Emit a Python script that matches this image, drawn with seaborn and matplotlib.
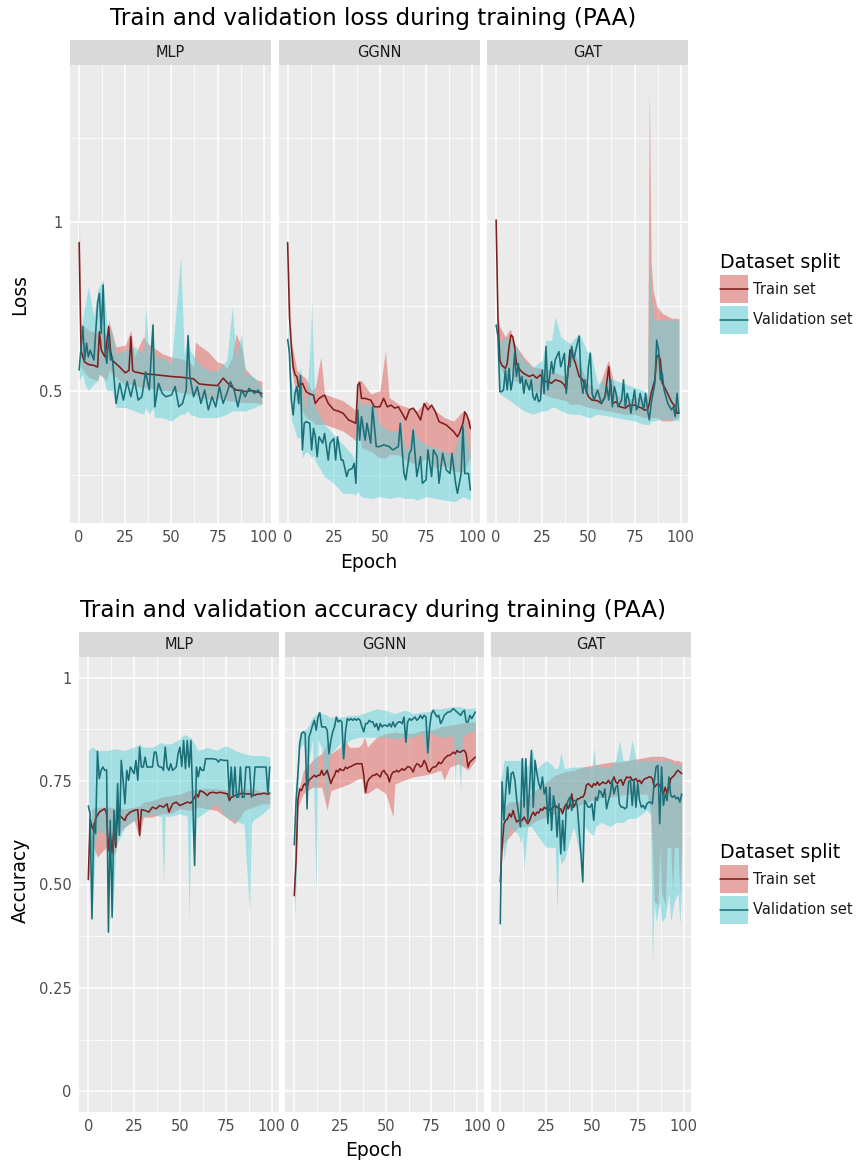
import matplotlib
matplotlib.use("Agg")
import matplotlib.pyplot as plt
from matplotlib.patches import Rectangle
from matplotlib.lines import Line2D
import pandas as pd
import seaborn as sns

# ---------------- data ----------------
MODELS = ["MLP", "GGNN", "GAT"]
SPLITS = ["Train set", "Validation set"]
LOSS_TICKS = [0.5, 1.0]
LOSS_TICK_LABELS = ["0.5", "1"]
ACC_TICKS = [0, 0.25, 0.5, 0.75, 1.0]
ACC_TICK_LABELS = ["0", "0.25", "0.50", "0.75", "1"]
EPOCH_TICKS = [0, 25, 50, 75, 100]

# line values: (epoch, value); bands: (epoch, low, high)
LOSS_MLP_TRAIN = [(0,.94),(1,.62),(2,.60),(3,.585),(5,.578),(8,.575),(10,.57),(11,.675),(12,.62),(14,.60),(16,.69),(17,.62),(18,.59),(20,.58),(22,.57),(25,.553),(27,.56),(28,.66),(29,.56),(30,.556),(35,.55),(40,.548),(45,.545),(50,.542),(55,.54),(60,.537),(62,.535),(65,.52),(70,.517),(75,.515),(78,.537),(82,.514),(85,.502),(88,.50),(90,.497),(93,.50),(95,.499),(97,.495),(99,.492)]
LOSS_MLP_TRAIN_BAND = [(0,.90,1.04),(1,.57,.70),(5,.54,.68),(10,.53,.67),(11,.55,.70),(15,.53,.66),(16,.56,.71),(20,.54,.63),(25,.515,.635),(28,.52,.68),(30,.515,.60),(33,.51,.64),(35,.51,.66),(37,.51,.64),(40,.505,.63),(45,.50,.61),(50,.50,.60),(55,.495,.595),(60,.49,.585),(62,.49,.57),(63,.49,.645),(65,.48,.635),(70,.475,.615),(75,.475,.585),(78,.48,.58),(80,.47,.565),(83,.47,.60),(85,.465,.67),(88,.465,.63),(90,.465,.565),(95,.465,.535),(99,.46,.527)]
LOSS_MLP_VAL = [(0,.561),(2,.69),(3,.591),(4,.641),(5,.60),(6,.62),(8,.591),(10,.759),(11,.789),(12,.67),(13,.814),(14,.62),(15,.581),(16,.66),(17,.591),(18,.60),(20,.462),(22,.522),(24,.472),(26,.527),(28,.482),(30,.532),(32,.472),(34,.482),(36,.556),(38,.502),(40,.695),(41,.452),(43,.522),(45,.492),(47,.482),(50,.487),(52,.512),(54,.452),(56,.462),(58,.502),(59,.663),(60,.542),(62,.482),(64,.512),(66,.462),(68,.502),(70,.443),(72,.482),(74,.452),(76,.512),(78,.462),(80,.492),(82,.527),(84,.502),(86,.452),(88,.502),(90,.482),(92,.507),(95,.492),(97,.502),(99,.482)]
LOSS_MLP_VAL_BAND = [(0,.53,.60),(2,.55,.72),(3,.52,.75),(5,.50,.81),(8,.52,.72),(10,.53,.80),(11,.55,.81),(13,.54,.83),(15,.50,.70),(18,.50,.67),(20,.45,.61),(25,.45,.62),(30,.44,.63),(35,.43,.61),(36,.45,.75),(38,.43,.60),(40,.45,.71),(41,.42,.60),(45,.42,.60),(50,.41,.58),(55,.43,.90),(57,.43,.60),(59,.44,.68),(60,.43,.62),(65,.42,.58),(70,.42,.56),(75,.42,.56),(80,.43,.59),(83,.44,.75),(85,.44,.60),(88,.44,.67),(90,.44,.55),(95,.45,.54),(99,.46,.51)]

LOSS_GGNN_TRAIN = [(0,.94),(1,.72),(2,.631),(3,.571),(4,.547),(5,.542),(6,.512),(8,.522),(10,.497),(12,.49),(14,.487),(15,.462),(17,.477),(20,.487),(22,.462),(25,.443),(28,.438),(30,.433),(33,.413),(37,.403),(38,.517),(39,.524),(40,.477),(42,.477),(45,.472),(47,.452),(50,.452),(52,.477),(54,.452),(56,.457),(58,.448),(60,.452),(62,.433),(64,.413),(66,.443),(68,.448),(70,.433),(72,.413),(74,.462),(76,.443),(78,.457),(80,.438),(82,.408),(84,.403),(86,.398),(88,.388),(90,.378),(92,.363),(93,.373),(95,.403),(96,.437),(97,.428),(98,.413),(99,.388)]
LOSS_GGNN_TRAIN_BAND = [(0,.93,.95),(2,.57,.65),(5,.47,.56),(10,.42,.535),(13,.41,.50),(15,.40,.51),(18,.40,.60),(20,.40,.49),(25,.39,.48),(30,.38,.47),(35,.36,.45),(37,.35,.44),(38,.40,.53),(40,.33,.53),(45,.32,.49),(50,.30,.50),(53,.30,.62),(55,.31,.48),(60,.31,.46),(65,.29,.45),(70,.28,.44),(75,.30,.47),(80,.27,.44),(85,.28,.42),(90,.26,.41),(95,.26,.44),(99,.30,.41)]
LOSS_GGNN_VAL = [(0,.652),(1,.611),(2,.472),(3,.428),(4,.492),(5,.512),(6,.462),(7,.545),(8,.324),(9,.403),(10,.408),(12,.403),(13,.324),(14,.388),(15,.363),(16,.304),(17,.363),(19,.344),(20,.373),(22,.294),(23,.344),(25,.358),(26,.294),(27,.363),(29,.294),(30,.294),(32,.245),(33,.264),(35,.269),(36,.284),(37,.225),(38,.443),(39,.353),(40,.423),(42,.353),(43,.403),(45,.344),(46,.452),(48,.334),(50,.334),(52,.339),(55,.334),(57,.324),(60,.334),(61,.403),(63,.254),(64,.235),(66,.314),(67,.324),(68,.383),(70,.245),(72,.304),(73,.225),(75,.235),(76,.324),(78,.245),(79,.324),(81,.304),(82,.225),(84,.314),(86,.264),(88,.254),(89,.314),(91,.225),(92,.195),(94,.254),(95,.393),(96,.254),(98,.254),(99,.205)]
LOSS_GGNN_VAL_BAND = [(0,.62,.70),(2,.41,.53),(3,.40,.50),(5,.36,.53),(7,.36,.57),(8,.30,.50),(10,.32,.45),(12,.31,.62),(13,.30,.77),(14,.31,.58),(15,.29,.45),(20,.245,.40),(25,.225,.37),(30,.195,.34),(35,.195,.31),(37,.19,.28),(38,.20,.48),(40,.185,.46),(45,.18,.46),(46,.18,.47),(50,.185,.40),(55,.18,.38),(60,.185,.38),(61,.185,.42),(63,.18,.34),(65,.18,.32),(68,.18,.40),(70,.175,.36),(75,.185,.34),(80,.18,.33),(85,.175,.32),(90,.17,.31),(95,.185,.42),(99,.175,.31)]

LOSS_GAT_TRAIN = [(0,1.007),(1,.71),(2,.591),(3,.576),(5,.566),(6,.581),(7,.631),(8,.665),(9,.66),(10,.631),(11,.581),(12,.571),(13,.561),(15,.551),(18,.542),(20,.547),(22,.537),(24,.547),(26,.527),(28,.527),(30,.522),(32,.532),(35,.527),(37,.517),(38,.502),(40,.621),(41,.611),(43,.581),(45,.542),(47,.532),(49,.497),(50,.482),(52,.472),(55,.47),(57,.462),(59,.482),(61,.571),(62,.512),(63,.462),(65,.467),(67,.452),(70,.448),(72,.457),(75,.457),(77,.452),(79,.448),(80,.443),(82,.443),(83,.462),(84,.492),(86,.532),(87,.601),(88,.606),(89,.591),(90,.522),(92,.502),(95,.467),(97,.452),(98,.433),(99,.433)]
LOSS_GAT_TRAIN_BAND = [(0,.997,1.01),(1,.70,.72),(2,.57,.69),(5,.54,.66),(7,.55,.68),(8,.56,.68),(10,.53,.64),(15,.52,.60),(20,.50,.57),(30,.48,.56),(38,.47,.54),(40,.46,.64),(45,.46,.58),(50,.45,.52),(55,.445,.50),(60,.44,.58),(61,.44,.59),(65,.435,.49),(70,.43,.47),(75,.43,.48),(80,.42,.48),(82,.42,.48),(83,.42,1.40),(84,.42,.88),(85,.42,.80),(87,.42,.75),(90,.41,.73),(95,.41,.715),(99,.42,.715)]
LOSS_GAT_VAL = [(0,.695),(1,.66),(2,.497),(3,.497),(4,.502),(5,.561),(6,.502),(7,.566),(8,.502),(9,.532),(10,.611),(11,.542),(12,.581),(13,.522),(14,.542),(15,.492),(16,.532),(17,.517),(18,.502),(19,.532),(20,.482),(21,.472),(22,.492),(23,.467),(24,.472),(25,.561),(26,.492),(27,.631),(28,.502),(30,.586),(31,.551),(32,.591),(34,.616),(35,.571),(37,.611),(38,.492),(39,.571),(40,.571),(41,.631),(42,.591),(44,.641),(45,.662),(46,.532),(47,.492),(48,.532),(49,.492),(50,.571),(51,.611),(52,.492),(53,.472),(55,.502),(57,.462),(59,.482),(60,.512),(61,.472),(62,.532),(63,.452),(64,.512),(65,.492),(66,.452),(68,.472),(69,.532),(70,.452),(71,.492),(72,.472),(73,.433),(75,.502),(76,.443),(77,.452),(78,.492),(80,.443),(81,.492),(82,.443),(83,.413),(84,.462),(85,.492),(86,.522),(87,.65),(88,.621),(89,.532),(90,.551),(91,.502),(93,.462),(95,.443),(96,.452),(97,.423),(98,.492),(99,.433)]
LOSS_GAT_VAL_BAND = [(0,.69,.70),(2,.49,.64),(5,.48,.66),(10,.46,.64),(15,.44,.59),(20,.43,.57),(25,.44,.59),(27,.44,.65),(30,.45,.65),(32,.45,.72),(35,.44,.66),(40,.43,.64),(45,.43,.67),(50,.42,.61),(51,.42,.62),(55,.43,.52),(60,.425,.54),(65,.42,.53),(70,.415,.52),(75,.41,.51),(80,.40,.50),(82,.40,.49),(83,.40,.89),(84,.41,.79),(85,.41,.71),(90,.415,.71),(95,.415,.71),(99,.41,.71)]

ACC_MLP_TRAIN = [(0,.512),(1,.659),(2,.639),(3,.631),(4,.659),(5,.667),(6,.675),(8,.681),(9,.683),(10,.671),(11,.582),(12,.623),(13,.578),(14,.635),(15,.59),(16,.679),(17,.667),(18,.663),(20,.655),(21,.667),(23,.675),(25,.679),(27,.681),(28,.619),(29,.681),(31,.679),(33,.675),(35,.687),(37,.683),(39,.691),(41,.687),(43,.695),(44,.675),(46,.695),(48,.699),(50,.691),(52,.695),(54,.699),(56,.697),(57,.703),(59,.719),(60,.711),(61,.727),(63,.723),(65,.715),(66,.721),(68,.723),(70,.721),(72,.723),(74,.721),(76,.719),(77,.703),(78,.711),(80,.715),(82,.718),(84,.721),(86,.719),(88,.719),(90,.715),(92,.718),(94,.719),(96,.721),(98,.718),(99,.721)]
ACC_MLP_TRAIN_BAND = [(0,.505,.525),(2,.60,.683),(5,.566,.687),(8,.582,.687),(10,.59,.687),(11,.575,.687),(13,.566,.687),(15,.582,.683),(16,.623,.687),(20,.639,.683),(25,.655,.687),(28,.61,.69),(30,.663,.699),(35,.663,.703),(40,.671,.711),(45,.672,.715),(50,.683,.719),(55,.679,.727),(60,.687,.731),(65,.683,.733),(70,.679,.731),(75,.663,.729),(80,.647,.727),(83,.663,.729),(85,.679,.731),(90,.687,.731),(95,.695,.723),(99,.695,.723)]
ACC_MLP_VAL = [(0,.69),(1,.671),(2,.417),(3,.647),(4,.623),(5,.822),(6,.756),(7,.776),(8,.784),(9,.776),(10,.777),(11,.385),(12,.655),(13,.421),(14,.679),(15,.602),(16,.744),(17,.619),(18,.80),(19,.752),(20,.695),(21,.776),(22,.752),(23,.784),(25,.768),(26,.80),(27,.752),(28,.832),(29,.784),(30,.784),(31,.808),(32,.784),(34,.784),(35,.784),(36,.82),(37,.82),(38,.788),(39,.784),(40,.784),(41,.776),(42,.832),(43,.784),(44,.776),(45,.792),(46,.776),(47,.78),(48,.784),(49,.816),(50,.832),(51,.785),(52,.848),(53,.78),(54,.848),(55,.784),(56,.848),(57,.711),(58,.546),(59,.784),(60,.76),(61,.784),(62,.776),(63,.776),(64,.804),(66,.804),(68,.804),(70,.802),(71,.796),(72,.802),(74,.80),(76,.80),(77,.711),(78,.784),(79,.711),(80,.784),(81,.711),(82,.711),(83,.784),(84,.711),(85,.711),(86,.784),(88,.784),(89,.711),(90,.719),(91,.784),(93,.784),(95,.784),(97,.784),(98,.719),(99,.784)]
ACC_MLP_VAL_BAND = [(0,.63,.824),(2,.41,.832),(4,.60,.828),(5,.63,.824),(10,.62,.824),(11,.38,.824),(12,.60,.826),(13,.41,.826),(15,.59,.828),(20,.64,.824),(25,.655,.832),(28,.66,.84),(30,.663,.832),(35,.671,.832),(40,.663,.844),(41,.50,.84),(42,.665,.84),(45,.665,.84),(50,.671,.852),(52,.668,.862),(54,.665,.86),(55,.41,.855),(56,.66,.855),(58,.54,.84),(59,.66,.83),(60,.663,.824),(65,.679,.832),(70,.695,.824),(75,.663,.836),(80,.655,.824),(85,.645,.816),(88,.43,.814),(89,.645,.812),(90,.655,.812),(95,.671,.812),(99,.687,.808)]

ACC_GGNN_TRAIN = [(0,.473),(1,.558),(2,.703),(3,.731),(4,.727),(5,.74),(6,.744),(7,.734),(8,.752),(9,.756),(10,.76),(11,.764),(12,.76),(13,.764),(14,.764),(15,.776),(16,.764),(17,.768),(18,.776),(19,.76),(20,.744),(21,.756),(22,.764),(23,.776),(24,.772),(25,.78),(26,.776),(27,.776),(28,.784),(29,.78),(30,.784),(31,.785),(32,.788),(33,.79),(34,.792),(35,.792),(36,.792),(37,.792),(38,.764),(39,.723),(40,.748),(41,.756),(42,.76),(43,.764),(44,.764),(45,.768),(46,.764),(47,.76),(48,.772),(49,.776),(50,.768),(51,.764),(52,.748),(53,.764),(54,.772),(55,.772),(56,.776),(57,.772),(58,.776),(59,.78),(60,.776),(61,.78),(62,.785),(63,.784),(64,.78),(65,.772),(66,.785),(67,.792),(68,.79),(69,.784),(70,.788),(71,.80),(72,.792),(73,.776),(74,.772),(75,.78),(76,.784),(77,.784),(78,.788),(79,.796),(80,.792),(81,.796),(82,.804),(83,.808),(84,.812),(85,.812),(86,.816),(87,.82),(88,.816),(89,.824),(90,.82),(91,.82),(92,.824),(93,.824),(94,.816),(95,.784),(96,.796),(97,.80),(98,.804),(99,.808)]
ACC_GGNN_TRAIN_BAND = [(0,.469,.477),(1,.55,.57),(2,.687,.72),(5,.72,.776),(10,.735,.80),(12,.735,.808),(15,.735,.816),(18,.68,.84),(20,.727,.816),(25,.735,.832),(28,.74,.848),(30,.743,.832),(35,.756,.832),(37,.756,.84),(38,.72,.856),(39,.72,.85),(40,.72,.832),(45,.735,.856),(50,.72,.865),(54,.663,.867),(55,.743,.869),(60,.752,.865),(65,.76,.865),(70,.764,.873),(75,.768,.873),(80,.776,.881),(82,.752,.883),(85,.784,.885),(90,.792,.889),(95,.776,.893),(99,.80,.893)]
ACC_GGNN_VAL = [(0,.596),(1,.703),(2,.768),(3,.84),(4,.865),(5,.869),(6,.865),(7,.683),(8,.856),(9,.869),(10,.885),(11,.897),(12,.873),(13,.905),(14,.915),(15,.881),(16,.881),(17,.881),(18,.873),(19,.816),(20,.848),(21,.869),(22,.881),(23,.905),(24,.893),(25,.897),(26,.893),(27,.804),(28,.869),(29,.901),(30,.897),(31,.901),(32,.897),(33,.901),(34,.897),(35,.901),(36,.897),(37,.881),(38,.869),(39,.889),(40,.889),(41,.897),(42,.893),(43,.893),(44,.881),(45,.889),(46,.873),(47,.889),(48,.881),(49,.885),(50,.885),(51,.882),(52,.889),(53,.881),(54,.893),(55,.881),(56,.889),(57,.893),(58,.893),(59,.889),(60,.905),(61,.844),(62,.893),(63,.901),(64,.897),(65,.901),(66,.905),(67,.897),(68,.901),(69,.909),(70,.901),(71,.909),(72,.905),(73,.818),(74,.881),(75,.913),(76,.921),(77,.913),(78,.905),(79,.909),(80,.889),(81,.897),(82,.909),(83,.913),(84,.917),(85,.917),(86,.921),(87,.925),(88,.921),(89,.917),(90,.913),(91,.909),(92,.917),(93,.921),(94,.893),(95,.893),(96,.909),(97,.901),(98,.909),(99,.917)]
ACC_GGNN_VAL_BAND = [(0,.41,.60),(1,.50,.72),(2,.72,.84),(3,.83,.869),(5,.84,.873),(6,.80,.875),(7,.67,.88),(8,.80,.885),(10,.85,.905),(12,.48,.91),(13,.85,.92),(15,.83,.913),(18,.68,.91),(19,.80,.905),(20,.816,.905),(25,.84,.905),(27,.79,.905),(28,.84,.907),(30,.848,.909),(35,.856,.909),(40,.856,.917),(45,.856,.925),(50,.856,.921),(55,.852,.913),(60,.856,.921),(61,.83,.92),(62,.856,.92),(65,.856,.913),(70,.865,.917),(73,.80,.918),(74,.865,.919),(75,.865,.925),(80,.856,.925),(87,.86,.93),(88,.744,.93),(89,.85,.93),(91,.727,.93),(92,.86,.928),(95,.865,.925),(99,.873,.928)]

ACC_GAT_TRAIN = [(0,.506),(1,.59),(2,.647),(3,.655),(4,.659),(5,.671),(6,.663),(7,.679),(8,.663),(9,.651),(10,.655),(11,.655),(12,.655),(13,.663),(14,.655),(15,.647),(16,.655),(17,.667),(18,.675),(19,.667),(20,.675),(21,.673),(22,.683),(23,.679),(24,.687),(25,.683),(26,.687),(27,.679),(28,.683),(29,.687),(30,.691),(31,.687),(32,.683),(33,.683),(34,.671),(35,.687),(36,.695),(37,.683),(38,.695),(39,.719),(40,.687),(41,.695),(42,.707),(43,.707),(44,.711),(45,.711),(46,.719),(47,.74),(48,.744),(49,.74),(50,.735),(51,.744),(52,.74),(53,.748),(54,.74),(55,.744),(56,.748),(57,.744),(58,.745),(59,.752),(60,.744),(61,.748),(62,.76),(63,.748),(64,.744),(65,.752),(66,.753),(67,.74),(68,.752),(69,.76),(70,.758),(71,.76),(72,.752),(73,.753),(74,.756),(75,.748),(76,.752),(77,.744),(78,.752),(79,.756),(80,.757),(81,.76),(82,.76),(83,.756),(84,.735),(85,.74),(86,.744),(87,.74),(88,.731),(89,.719),(90,.735),(91,.719),(92,.735),(93,.756),(94,.76),(95,.764),(96,.772),(97,.776),(98,.772),(99,.768)]
ACC_GAT_TRAIN_BAND = [(0,.50,.51),(1,.58,.60),(2,.60,.683),(5,.615,.70),(10,.64,.70),(15,.64,.715),(20,.655,.731),(25,.663,.748),(30,.671,.764),(35,.679,.772),(40,.687,.776),(45,.695,.784),(50,.703,.788),(55,.711,.792),(60,.711,.796),(65,.715,.796),(70,.719,.80),(75,.719,.804),(80,.719,.808),(82,.68,.81),(83,.59,.81),(84,.46,.81),(86,.45,.81),(87,.59,.81),(88,.48,.81),(90,.45,.808),(91,.59,.806),(93,.59,.804),(94,.48,.802),(95,.59,.80),(97,.59,.80),(98,.48,.798),(99,.59,.796)]
ACC_GAT_VAL = [(0,.405),(1,.748),(2,.655),(3,.727),(4,.784),(5,.719),(6,.768),(7,.772),(8,.752),(9,.703),(10,.671),(11,.639),(12,.804),(13,.687),(14,.804),(15,.655),(16,.735),(17,.824),(18,.687),(19,.80),(20,.768),(21,.744),(22,.731),(23,.76),(24,.719),(25,.735),(26,.647),(27,.735),(28,.631),(29,.715),(30,.687),(31,.615),(32,.695),(33,.574),(34,.655),(35,.582),(36,.687),(37,.703),(38,.711),(39,.679),(40,.703),(41,.703),(42,.691),(43,.631),(44,.574),(45,.506),(46,.703),(47,.695),(48,.687),(49,.687),(50,.695),(51,.655),(52,.711),(53,.703),(54,.727),(55,.723),(56,.711),(57,.731),(58,.683),(59,.703),(60,.719),(61,.752),(62,.719),(63,.735),(64,.74),(65,.695),(66,.687),(67,.687),(68,.683),(69,.687),(70,.748),(71,.752),(72,.691),(73,.752),(74,.687),(75,.744),(76,.703),(77,.687),(78,.691),(79,.683),(80,.695),(81,.699),(82,.699),(83,.695),(84,.748),(85,.784),(86,.788),(87,.647),(88,.784),(89,.691),(90,.719),(91,.703),(92,.76),(93,.715),(94,.711),(95,.715),(96,.707),(97,.711),(98,.699),(99,.719)]
ACC_GAT_VAL_BAND = [(0,.40,.75),(1,.64,.77),(2,.56,.80),(5,.64,.80),(10,.62,.80),(11,.60,.80),(12,.62,.81),(13,.54,.80),(15,.64,.785),(17,.64,.83),(20,.62,.78),(25,.59,.80),(28,.59,.79),(30,.59,.78),(31,.437,.78),(32,.59,.79),(33,.55,.82),(35,.56,.78),(40,.64,.784),(44,.56,.784),(45,.50,.784),(46,.64,.784),(50,.62,.78),(51,.62,.83),(52,.64,.79),(55,.65,.784),(60,.64,.784),(63,.65,.80),(65,.65,.848),(67,.65,.80),(70,.66,.80),(72,.66,.85),(74,.66,.80),(80,.68,.80),(82,.67,.80),(83,.31,.80),(84,.46,.80),(85,.41,.80),(87,.46,.80),(88,.41,.80),(90,.42,.80),(92,.48,.80),(93,.41,.80),(95,.46,.79),(97,.48,.79),(98,.405,.79),(99,.50,.79)]

SERIES = {
    ("loss", "MLP"): (LOSS_MLP_TRAIN, LOSS_MLP_TRAIN_BAND, LOSS_MLP_VAL, LOSS_MLP_VAL_BAND),
    ("loss", "GGNN"): (LOSS_GGNN_TRAIN, LOSS_GGNN_TRAIN_BAND, LOSS_GGNN_VAL, LOSS_GGNN_VAL_BAND),
    ("loss", "GAT"): (LOSS_GAT_TRAIN, LOSS_GAT_TRAIN_BAND, LOSS_GAT_VAL, LOSS_GAT_VAL_BAND),
    ("acc", "MLP"): (ACC_MLP_TRAIN, ACC_MLP_TRAIN_BAND, ACC_MLP_VAL, ACC_MLP_VAL_BAND),
    ("acc", "GGNN"): (ACC_GGNN_TRAIN, ACC_GGNN_TRAIN_BAND, ACC_GGNN_VAL, ACC_GGNN_VAL_BAND),
    ("acc", "GAT"): (ACC_GAT_TRAIN, ACC_GAT_TRAIN_BAND, ACC_GAT_VAL, ACC_GAT_VAL_BAND),
}

line_rows, band_rows = [], []
for (metric, model), (tr, trb, va, vab) in SERIES.items():
    for split, ln, bd in ((SPLITS[0], tr, trb), (SPLITS[1], va, vab)):
        for e, v in ln:
            line_rows.append((metric, model, split, e, v))
        for e, lo, hi in bd:
            band_rows.append((metric, model, split, e, lo, hi))
lines_df = pd.DataFrame(line_rows, columns=["metric", "model", "split", "epoch", "value"])
bands_df = pd.DataFrame(band_rows, columns=["metric", "model", "split", "epoch", "lo", "hi"])

# ---------------- style ----------------
W, H = 858, 1162
sns.set_style("darkgrid")
plt.rcParams["font.family"] = ["DejaVu Sans"]
LINE_COL = {"Train set": "#7E1F1F", "Validation set": "#1B6F78"}
RIB_COL = {"Train set": "#DF615B", "Validation set": "#5BD3DB"}
KEY_COL = {"Train set": "#E6A6A4", "Validation set": "#A4E1E5"}
BG = "#EBEBEB"
STRIP = "#D9D9D9"
TXT = "#1A1A1A"
TICK_TXT = "#4D4D4D"

fig = plt.figure(figsize=(W / 100, H / 100), dpi=100)
fig.patch.set_facecolor("white")


def px_axes(x0, y0, x1, y1):
    return fig.add_axes([x0 / W, 1 - y1 / H, (x1 - x0) / W, (y1 - y0) / H])


def style_axes(ax, ylim, yticks, yminor, ylabels, show_y):
    ax.set_facecolor(BG)
    for s in ax.spines.values():
        s.set_visible(False)
    ax.set_xlim(-4.95, 103.95)
    ax.set_ylim(*ylim)
    ax.set_xticks(EPOCH_TICKS)
    ax.set_xticklabels([str(t) for t in EPOCH_TICKS])
    ax.set_xticks([12.5, 37.5, 62.5, 87.5], minor=True)
    ax.set_yticks(yticks)
    ax.set_yticks(yminor, minor=True)
    ax.set_yticklabels(ylabels if show_y else [])
    ax.grid(which="major", color="white", lw=1.1)
    ax.grid(which="minor", color="white", lw=0.55)
    ax.set_axisbelow(True)
    ax.tick_params(which="major", length=2.9, width=0.8, color="#333333",
                   labelsize=10.5, labelcolor=TICK_TXT, pad=2.4)
    ax.tick_params(which="minor", length=0)
    if not show_y:
        ax.tick_params(axis="y", which="major", length=0)
    ax.set_xlabel("")
    ax.set_ylabel("")


def strip(x0, y0, x1, y1, text):
    sax = px_axes(x0, y0, x1, y1)
    sax.set_facecolor(STRIP)
    for s in sax.spines.values():
        s.set_visible(False)
    sax.set_xticks([])
    sax.set_yticks([])
    sax.text(0.5, 0.5, text, ha="center", va="center", fontsize=10.5, color=TXT)


def draw(ax, metric, model):
    for split in SPLITS:
        b = bands_df[(bands_df.metric == metric) & (bands_df.model == model) & (bands_df.split == split)]
        ax.fill_between(b.epoch, b.lo, b.hi, color=RIB_COL[split], alpha=0.5, lw=0)
    sub = lines_df[(lines_df.metric == metric) & (lines_df.model == model)]
    sns.lineplot(data=sub, x="epoch", y="value", hue="split", hue_order=SPLITS,
                 palette=LINE_COL, estimator=None, lw=1.15, legend=False, ax=ax)


def legend(y_title, y_key1):
    fig.text(720 / W, 1 - y_title / H, "Dataset split", ha="left", va="center",
             fontsize=13.6, color="black")
    for i, split in enumerate(SPLITS):
        ky = y_key1 + i * 31
        fig.add_artist(Rectangle((720 / W, 1 - (ky + 28) / H), 28 / W, 28 / H,
                                 transform=fig.transFigure, facecolor=KEY_COL[split], lw=0))
        fig.add_artist(Line2D([720 / W, 748 / W], [1 - (ky + 14) / H] * 2,
                              transform=fig.transFigure, color=LINE_COL[split], lw=1.15))
        fig.text(753 / W, 1 - (ky + 14) / H, split, ha="left", va="center",
                 fontsize=10.5, color=TXT)


# ---------------- top: loss ----------------
top_x = [(70, 271), (278.5, 479.5), (487, 688)]
for i, (model, (x0, x1)) in enumerate(zip(MODELS, top_x)):
    ax = px_axes(x0, 65, x1, 523)
    draw(ax, "loss", model)
    style_axes(ax, (0.107, 1.467), LOSS_TICKS, [0.25, 0.75, 1.25], LOSS_TICK_LABELS, i == 0)
    strip(x0, 40, x1, 65, model)

fig.text(373.5 / W, 1 - 18 / H, "Train and validation loss during training (PAA)",
         ha="center", va="center", fontsize=16.6, color="black")
fig.text(368.5 / W, 1 - 563 / H, "Epoch", ha="center", va="center", fontsize=13.4, color="black")
fig.text(20 / W, 1 - 295 / H, "Loss", ha="center", va="center", rotation=90,
         fontsize=13.4, color="black")
legend(262, 275)

# ---------------- bottom: accuracy ----------------
bot_x = [(79.2, 278.8), (285.2, 484.4), (491.2, 690.8)]
for i, (model, (x0, x1)) in enumerate(zip(MODELS, bot_x)):
    ax = px_axes(x0, 657, x1, 1112)
    draw(ax, "acc", model)
    style_axes(ax, (-0.05, 1.05), ACC_TICKS, [0.125, 0.375, 0.625, 0.875],
               ACC_TICK_LABELS, i == 0)
    strip(x0, 632, x1, 657, model)

fig.text(373 / W, 1 - 610 / H, "Train and validation accuracy during training (PAA)",
         ha="center", va="center", fontsize=16.6, color="black")
fig.text(374 / W, 1 - 1150 / H, "Epoch", ha="center", va="center", fontsize=13.4, color="black")
fig.text(20 / W, 1 - 880 / H, "Accuracy", ha="center", va="center", rotation=90,
         fontsize=13.4, color="black")
legend(853, 865)

fig.savefig("out.png", dpi=100, facecolor="white")
